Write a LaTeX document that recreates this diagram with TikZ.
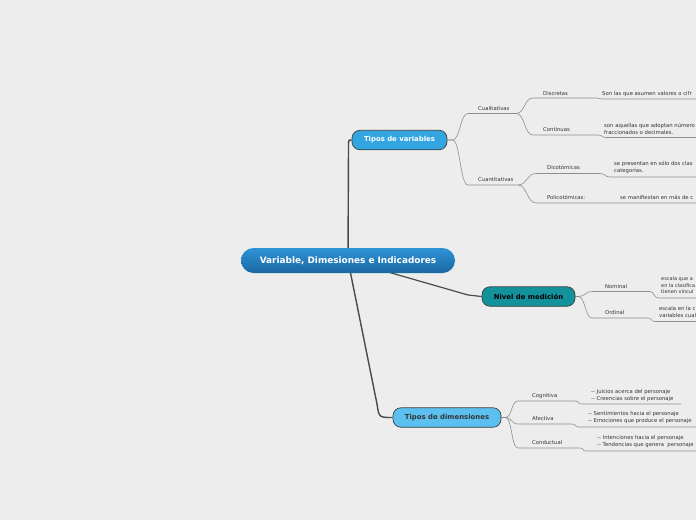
\documentclass[tikz,border=0pt]{standalone}
\usepackage{fontspec}
\newfontfamily\dv{DejaVu Sans}
\definecolor{bgc}{HTML}{EDEDED}
\definecolor{ctop}{HTML}{2E93D6}
\definecolor{cbot}{HTML}{1A67A3}
\definecolor{tvc}{HTML}{33A6E2}
\definecolor{nivc}{HTML}{14929B}
\definecolor{dimc}{HTML}{5BC0EF}
\definecolor{bord}{HTML}{3E3E3E}
\definecolor{lineg}{HTML}{8E8E8E}
\definecolor{darkl}{HTML}{4A4A4A}
\definecolor{txt}{HTML}{333333}
\pgfdeclarelayer{bg}
\pgfdeclarelayer{lines}
\pgfsetlayers{bg,lines,main}
\begin{document}
\begin{tikzpicture}[x=1pt,y=-1pt,
  small/.style={font=\dv\fontsize{5.3}{6.5}\selectfont, text=txt, inner sep=0pt},
  lbl/.style={small, anchor=base west},
  det/.style={small, anchor=north west, align=left},
  det7/.style={det, font=\dv\fontsize{5.3}{7.2}\selectfont},
  thinl/.style={draw=lineg, line width=0.6pt},
  mainl/.style={draw=darkl, line width=1.4pt},
  topic/.style={rounded corners=8pt, draw=bord, line width=0.7pt, minimum height=19.5pt, inner sep=0pt, font=\dv\bfseries\fontsize{6.9}{8}\selectfont}]
\useasboundingbox (0,0) rectangle (696,520);
\begin{pgfonlayer}{bg}
\fill[bgc] (0,0) rectangle (696,520);
\end{pgfonlayer}
\clip (0,0) rectangle (696,520);

% main nodes
\node[rounded corners=12.5pt, minimum width=214pt, minimum height=25pt, top color=ctop, bottom color=cbot, text=white, font=\dv\bfseries\fontsize{8.9}{10}\selectfont] (root) at (348,260.5) {Variable, Dimesiones e Indicadores};
\node[topic, fill=tvc, text=white, minimum width=95pt] (tv) at (399.5,140) {Tipos de variables};
\node[topic, fill=nivc, text=black, minimum width=93pt] (niv) at (528.5,296.5) {Nivel de medición};
\node[topic, fill=dimc, text=txt, minimum width=108pt] (dim) at (447,417.5) {Tipos de dimensiones};

% coordinates of underlines
\coordinate (cual-s) at (468,113.5); \coordinate (cual-e) at (516,113.5);
\coordinate (disc-s) at (533,98); \coordinate (disc-e) at (596,98);
\coordinate (discd-s) at (602,99); \coordinate (discd-e) at (696,99);
\coordinate (cont-s) at (533,135); \coordinate (cont-e) at (598,135);
\coordinate (contd-s) at (606,137.5); \coordinate (contd-e) at (696,137.5);
\coordinate (cuan-s) at (468,185); \coordinate (cuan-e) at (518,185);
\coordinate (dic-s) at (536,173.5); \coordinate (dic-e) at (600,173.5);
\coordinate (dicd-s) at (610,177); \coordinate (dicd-e) at (696,177);
\coordinate (pol-s) at (536,203); \coordinate (pol-e) at (696,203);
\coordinate (nom-s) at (592,291.5); \coordinate (nom-e) at (650,291.5);
\coordinate (nomd-s) at (658,298); \coordinate (nomd-e) at (696,298);
\coordinate (ord-s) at (592,318); \coordinate (ord-e) at (648,318);
\coordinate (ordd-s) at (655,321.5); \coordinate (ordd-e) at (696,321.5);
\coordinate (cog-s) at (518,401); \coordinate (cog-e) at (575,401);
\coordinate (cogd-s) at (582,404); \coordinate (cogd-e) at (681,404);
\coordinate (afe-s) at (518,424); \coordinate (afe-e) at (572,424);
\coordinate (afed-s) at (579,427); \coordinate (afed-e) at (696,427);
\coordinate (con-s) at (518,448); \coordinate (con-e) at (580,448);
\coordinate (cond-s) at (586,451); \coordinate (cond-e) at (696,451);

% labels
\node[lbl] (cual) at (478,110.5) {Cualitativas};
\node[lbl] (disc) at (543,95.5) {Discretas};
\node[lbl] (discd) at (602,95.5) {Son las que asumen valores o cifr};
\node[lbl] (cont) at (543,131.5) {Continuas};
\node[det] (contd) at (604,123.5) {son aquellas que adoptan número\\fraccionados o decimales.};
\node[lbl] (cuan) at (478,181.5) {Cuantitativas};
\node[lbl] (dic) at (547,169) {Dicotómicas};
\node[det] (dicd) at (614,161.2) {se presentan en sólo dos clas\\categorías.};
\node[lbl] (pol) at (547,199.5) {Policotómicas:};
\node[lbl] (pold) at (620,199.5) {se manifiestan en más de c};
\node[lbl] (nom) at (605,288) {Nominal};
\node[det, font=\dv\fontsize{5.0}{6.5}\selectfont] (nomd) at (661,276.5) {escala que a\\en la clasifica\\tienen vincul};
\node[lbl] (ord) at (605,314) {Ordinal};
\node[det] (ordd) at (659,306.5) {escala en la c\\variables cual};
\node[lbl] (cog) at (532,397) {Cognitiva};
\node[det7] (cogd) at (591,389) {-- Juicios acerca del personaje\\-- Creencias sobre el personaje};
\node[lbl] (afe) at (532,420) {Afectiva};
\node[det7] (afed) at (588,411.5) {-- Sentimientos hacia el personaje\\-- Emociones que produce el personaje};
\node[lbl] (con) at (532,444) {Conductual};
\node[det7] (cond) at (597,435.5) {-- Intenciones hacia el personaje\\-- Tendencias que genera\ \ personaje};

\begin{pgfonlayer}{lines}
% main connectors
\draw[mainl] (root.center) -- (348.5,146) .. controls (348.5,140) .. (tv.west);
\draw[mainl, line width=1.2pt] (root.center) -- (468,295) .. controls (475,296.5) .. (niv.west);
\draw[mainl] (root.center) -- (377,404) .. controls (379,417.5) .. (dim.west);
% tipos de variables
\draw[thinl] (tv.east) -- ++(5,0) .. controls +(8,0) and +(-8,0) .. (cual-s) -- (cual-e);
\draw[thinl] (tv.east) -- ++(5,0) .. controls +(8,0) and +(-8,0) .. (cuan-s) -- (cuan-e);
\draw[thinl] (cual-e) .. controls +(9,0) and +(-9,0) .. (disc-s) -- (disc-e) .. controls +(3,0) and +(-3,0) .. (discd-s) -- (discd-e);
\draw[thinl] (cual-e) .. controls +(9,0) and +(-9,0) .. (cont-s) -- (cont-e) .. controls +(4,0) and +(-4,0) .. (contd-s) -- (contd-e);
\draw[thinl] (cuan-e) .. controls +(9,0) and +(-9,0) .. (dic-s) -- (dic-e) .. controls +(5,0) and +(-5,0) .. (dicd-s) -- (dicd-e);
\draw[thinl] (cuan-e) .. controls +(9,0) and +(-9,0) .. (pol-s) -- (pol-e);
% nivel
\draw[thinl] (niv.east) -- ++(3,0) .. controls +(7,0) and +(-7,0) .. (nom-s) -- (nom-e) .. controls +(4,0) and +(-4,0) .. (nomd-s) -- (nomd-e);
\draw[thinl] (niv.east) -- ++(3,0) .. controls +(7,0) and +(-7,0) .. (ord-s) -- (ord-e) .. controls +(4,0) and +(-4,0) .. (ordd-s) -- (ordd-e);
% dimensiones
\draw[thinl] (dim.east) -- ++(4,0) .. controls +(7,0) and +(-7,0) .. (cog-s) -- (cog-e) .. controls +(4,0) and +(-4,0) .. (cogd-s) -- (cogd-e);
\draw[thinl] (dim.east) -- ++(4,0) .. controls +(7,0) and +(-7,0) .. (afe-s) -- (afe-e) .. controls +(4,0) and +(-4,0) .. (afed-s) -- (afed-e);
\draw[thinl] (dim.east) -- ++(4,0) .. controls +(7,0) and +(-7,0) .. (con-s) -- (con-e) .. controls +(4,0) and +(-4,0) .. (cond-s) -- (cond-e);
\end{pgfonlayer}
\end{tikzpicture}
\end{document}
